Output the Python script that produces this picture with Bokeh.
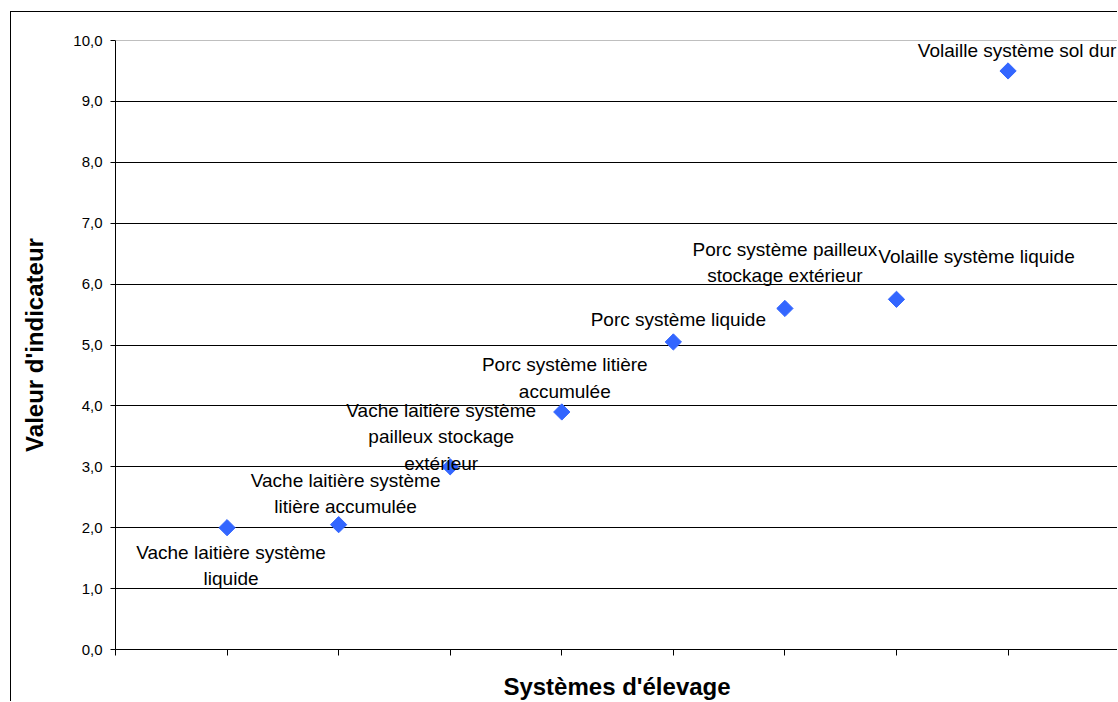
import math
from bokeh.plotting import figure
from bokeh.models import ColumnDataSource, Range1d, FixedTicker, Span
from bokeh.core.properties import value
from bokeh.embed import file_html
from bokeh.resources import INLINE

# ---- data ----
systems = [
    "Vache laitière système\nliquide",
    "Vache laitière système\nlitière accumulée",
    "Vache laitière système\npailleux stockage\nextérieur",
    "Porc système litière\naccumulée",
    "Porc système liquide",
    "Porc système pailleux\nstockage extérieur",
    "Volaille système liquide",
    "Volaille système sol dur",
]
x_pos = [1, 2, 3, 4, 5, 6, 7, 8]
indicator = [2.0, 2.05, 3.0, 3.9, 5.05, 5.6, 5.75, 9.5]
y_ticks = [0, 1, 2, 3, 4, 5, 6, 7, 8, 9, 10]
y_tick_labels = ["0,0", "1,0", "2,0", "3,0", "4,0", "5,0", "6,0", "7,0", "8,0", "9,0", "10,0"]
x_ticks = [0, 1, 2, 3, 4, 5, 6, 7, 8, 9]

# label placement (pixel offsets from each point, layout only)
label_dx = [4, 7, -9, 3, 5, 0, 80, 9]
label_dy = [38, -31, -30, -34, -22, -46, -43, -20]

FONT = "Liberation Sans"

p = figure(width=1107, height=690, output_backend="svg", toolbar_location=None,
           x_range=Range1d(0, 8.99), y_range=Range1d(0, 10),
           min_border_left=104, min_border_right=0, min_border_top=28, min_border_bottom=53)
p.styles = {"border-left": "1px solid #000000", "border-top": "1px solid #000000",
            "margin-left": "10px", "margin-top": "11px"}
p.outline_line_color = None
p.background_fill_color = "white"
p.border_fill_color = "white"

# grid
p.xgrid.grid_line_color = None
p.ygrid.ticker = FixedTicker(ticks=y_ticks)
p.ygrid.grid_line_color = "#000000"
p.ygrid.grid_line_width = 1
p.add_layout(Span(location=10, dimension="width", line_color="#808080", line_width=1))

# y axis
ya = p.yaxis[0]
ya.ticker = FixedTicker(ticks=y_ticks)
ya.major_label_overrides = {t: l for t, l in zip(y_ticks, y_tick_labels)}
ya.minor_tick_line_color = None
ya.major_tick_in = 0
ya.major_tick_out = 5
ya.major_label_standoff = 8
ya.major_label_text_font = FONT
ya.major_label_text_font_size = "15px"
ya.major_label_text_color = "#000000"
ya.axis_line_color = "#000000"
ya.major_tick_line_color = "#000000"
ya.axis_label = "Valeur d'indicateur"
ya.axis_label_text_font = FONT
ya.axis_label_text_font_size = "24px"
ya.axis_label_text_font_style = "bold"
ya.axis_label_text_color = "#000000"
ya.axis_label_standoff = 22

# x axis
xa = p.xaxis[0]
xa.ticker = FixedTicker(ticks=x_ticks)
xa.minor_tick_line_color = None
xa.major_tick_in = 0
xa.major_tick_out = 6
xa.major_label_text_color = None
xa.major_label_text_font_size = "1px"
xa.major_label_standoff = 0
xa.axis_line_color = "#000000"
xa.major_tick_line_color = "#000000"
xa.axis_label = "Systèmes d'élevage"
xa.axis_label_text_font = FONT
xa.axis_label_text_font_size = "24px"
xa.axis_label_text_font_style = "bold"
xa.axis_label_text_color = "#000000"
xa.axis_label_standoff = 17

src = ColumnDataSource(dict(x=x_pos, y=indicator, label=systems, dx=label_dx, dy=label_dy))

p.scatter(x="x", y="y", source=src, marker="square", size=11.5, angle=math.pi / 4,
          fill_color="#3366FF", line_color="#3366FF")

p.text(x="x", y="y", text="label", source=src, x_offset="dx", y_offset="dy",
       text_font=value(FONT), text_font_size="19px", text_color="#000000",
       text_align="center", text_baseline="middle", text_line_height=1.25)

open("out.html", "w").write(file_html(p, INLINE))
